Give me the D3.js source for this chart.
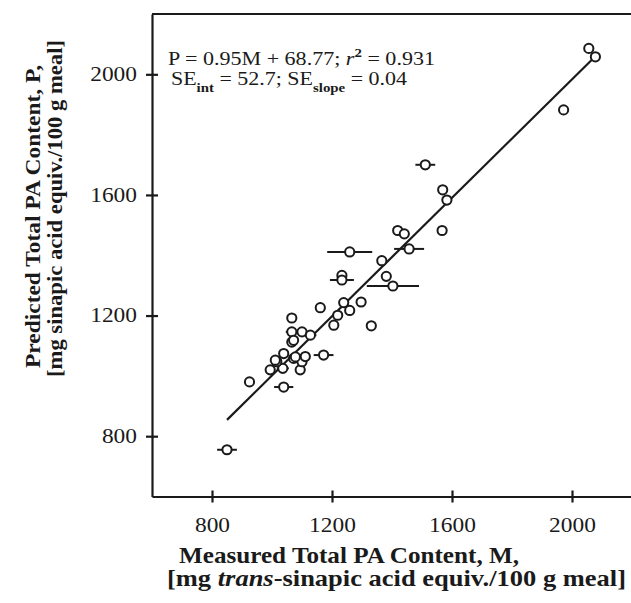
<!DOCTYPE html>
<html><head><meta charset="utf-8">
<script src="https://cdn.jsdelivr.net/npm/d3@7"></script>
<style>body{margin:0;background:#fff}svg{display:block}text{font-family:"Liberation Serif","Times New Roman",serif;fill:#1a1a1a}</style>
</head><body><svg id="c" width="631" height="603"></svg>
<script>
// Measured (M) and Predicted (P) total PA content, with horizontal error (M units)
const measured  = [850, 925, 1039, 994, 1036, 1016, 1039, 1072, 1094, 1100, 1111, 1066, 1172, 1066, 1066, 1100, 1128, 1072, 1161, 1206, 1219, 1239, 1259, 1297, 1331, 1233, 1233, 1259, 1366, 1381, 1403, 1457, 1419, 1441, 1511, 1567, 1569, 1583, 1972, 2056, 2078, 1011, 1078];
const predicted = [755, 980, 963, 1020, 1025, 1047, 1074, 1058, 1020, 1047, 1064, 1112, 1069, 1192, 1146, 1146, 1135, 1118, 1226, 1168, 1201, 1243, 1217, 1245, 1166, 1333, 1318, 1411, 1382, 1330, 1298, 1421, 1482, 1471, 1700, 1482, 1617, 1583, 1882, 2086, 2058, 1052, 1063];
const xError    = [33, 0, 32, 10, 20, 15, 10, 10, 0, 10, 15, 10, 33, 0, 20, 15, 20, 0, 0, 0, 0, 0, 15, 0, 0, 15, 40, 75, 0, 0, 87, 50, 0, 0, 33, 0, 0, 0, 0, 0, 0, 10, 10];
const fitM = [850, 2068];
const fitP = [854, 2050];
const xTicks = [800, 1200, 1600, 2000];
const yTicks = [800, 1200, 1600, 2000];
const xDomain = [600, 2200];
const yDomain = [600, 2200];

const svg = d3.select("#c");
const x = d3.scaleLinear().domain(xDomain).range([152, 632]);
const y = d3.scaleLinear().domain(yDomain).range([496.5, 14]);
const ink = "#1a1a1a";

// frame top
svg.append("line").attr("x1", 152).attr("x2", 632).attr("y1", y(2200)).attr("y2", y(2200))
  .attr("stroke", ink).attr("stroke-width", 2.2);

const xAxis = svg.append("g").attr("transform", `translate(0,${y(600)})`)
  .call(d3.axisBottom(x).tickValues(xTicks).tickSizeInner(6).tickSizeOuter(0).tickFormat(d3.format("d")));
xAxis.selectAll(".tick line").attr("y1", -6).attr("y2", 6);
xAxis.selectAll(".tick text").attr("y", 0).attr("dy", 0)
  .attr("transform", "translate(0,35) scale(1.17,1)")
  .attr("font-size", 20).attr("fill", ink).attr("font-family", "Liberation Serif");
const yAxis = svg.append("g").attr("transform", `translate(${x(600)},0)`)
  .call(d3.axisLeft(y).tickValues(yTicks).tickSizeInner(6).tickSizeOuter(0).tickFormat(d3.format("d")));
yAxis.selectAll(".tick line").attr("x1", -6).attr("x2", 6);
yAxis.selectAll(".tick text").attr("x", 0).attr("dy", "0.32em")
  .attr("transform", "translate(-15,0) scale(1.17,1)")
  .attr("font-size", 20).attr("fill", ink).attr("font-family", "Liberation Serif");
svg.selectAll(".domain, .tick line").attr("stroke", ink).attr("stroke-width", 2.2);

// regression line
svg.append("line").attr("x1", x(fitM[0])).attr("y1", y(fitP[0])).attr("x2", x(fitM[1])).attr("y2", y(fitP[1]))
  .attr("stroke", ink).attr("stroke-width", 2.2);

const pts = measured.map((m, i) => ({m, p: predicted[i], e: xError[i]}));
const g = svg.append("g");
g.selectAll("line.err").data(pts.filter(d => d.e > 0)).join("line").attr("class", "err")
  .attr("x1", d => x(d.m - d.e)).attr("x2", d => x(d.m + d.e))
  .attr("y1", d => y(d.p)).attr("y2", d => y(d.p)).attr("stroke", ink).attr("stroke-width", 2);
g.selectAll("circle").data(pts).join("circle")
  .attr("cx", d => x(d.m)).attr("cy", d => y(d.p)).attr("r", 4.6)
  .attr("fill", "#fff").attr("stroke", ink).attr("stroke-width", 2);

// equation text
const t1 = svg.append("text").attr("x", 168).attr("y", 65).attr("font-size", 18.5)
  .attr("textLength", 267).attr("lengthAdjust", "spacingAndGlyphs");
t1.append("tspan").text("P = 0.95M + 68.77; ");
t1.append("tspan").attr("font-style", "italic").text("r");
t1.append("tspan").attr("font-size", 12.5).attr("font-weight", "bold").attr("dy", -8).text("2");
t1.append("tspan").attr("dy", 8).text(" = 0.931");
const t2 = svg.append("text").attr("x", 171).attr("y", 85).attr("font-size", 18.5)
  .attr("textLength", 236).attr("lengthAdjust", "spacingAndGlyphs");
t2.append("tspan").text("SE");
t2.append("tspan").attr("font-size", 12.5).attr("font-weight", "bold").attr("dy", 7).text("int");
t2.append("tspan").attr("dy", -7).text(" = 52.7; SE");
t2.append("tspan").attr("font-size", 12.5).attr("font-weight", "bold").attr("dy", 7).text("slope");
t2.append("tspan").attr("dy", -7).text(" = 0.04");

// axis titles
svg.append("text").attr("x", 179).attr("y", 563).attr("font-size", 23).attr("font-weight", "bold")
  .attr("textLength", 340).attr("lengthAdjust", "spacingAndGlyphs")
  .text("Measured Total PA Content, M,");
const xl2 = svg.append("text").attr("x", 167).attr("y", 586).attr("font-size", 23).attr("font-weight", "bold")
  .attr("textLength", 459).attr("lengthAdjust", "spacingAndGlyphs");
xl2.append("tspan").text("[mg ");
xl2.append("tspan").attr("font-style", "italic").text("trans");
xl2.append("tspan").text("-sinapic acid equiv./100 g meal]");

svg.append("text").attr("font-size", 22).attr("font-weight", "bold")
  .attr("transform", "rotate(-90)").attr("x", -368).attr("y", 40)
  .attr("textLength", 303).attr("lengthAdjust", "spacingAndGlyphs")
  .text("Predicted Total  PA Content, P,");
svg.append("text").attr("font-size", 22).attr("font-weight", "bold")
  .attr("transform", "rotate(-90)").attr("x", -377).attr("y", 62)
  .attr("textLength", 337).attr("lengthAdjust", "spacingAndGlyphs")
  .text("[mg sinapic acid equiv./100 g meal]");
</script></body></html>
